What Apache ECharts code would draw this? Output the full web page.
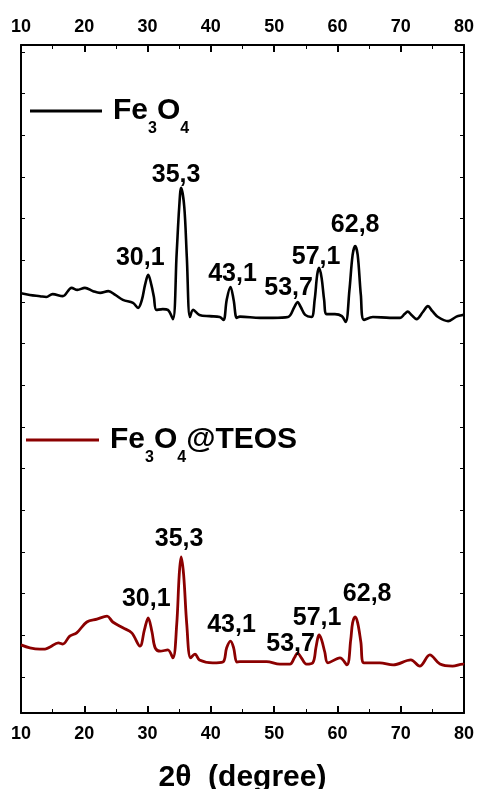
<!DOCTYPE html>
<html>
<head>
<meta charset="utf-8">
<script src="https://cdn.jsdelivr.net/npm/echarts@6/dist/echarts.min.js"></script>
<style>
html, body { margin: 0; padding: 0; background: #fff; }
#chart { width: 477px; height: 789px; }
</style>
</head>
<body>
<div id="chart"></div>
<script>
// XRD patterns: 2θ (degree) against intensity (a.u., stacked)
const twoThetaFe3O4 = [10.0, 11.4, 13.0, 14.0, 15.0, 16.6, 18.0, 18.9, 20.1, 21.4, 22.5, 23.8, 24.9, 26.1, 27.7, 28.5, 29.1, 29.6, 30.1, 30.6, 31.0, 31.4, 32.4, 33.2, 34.0, 34.6, 35.0, 35.3, 35.8, 36.2, 36.7, 37.2, 38.2, 39.8, 41.4, 42.0, 42.5, 43.1, 43.6, 44.1, 44.6, 47.8, 49.8, 52.2, 53.2, 53.7, 54.2, 54.9, 55.9, 56.4, 56.8, 57.1, 57.5, 57.9, 58.3, 59.6, 60.7, 61.3, 61.9, 62.4, 62.8, 63.2, 63.7, 64.2, 65.6, 68.3, 69.9, 70.6, 71.1, 71.7, 72.5, 73.5, 74.3, 75.0, 75.9, 77.5, 78.8, 79.8, 80.0];
const intensityFe3O4 = [921, 917, 914, 912, 919, 914, 934, 929, 934, 926, 922, 926, 917, 905, 898, 886, 905, 941, 965, 941, 912, 881, 883, 881, 859, 1018, 1128, 1174, 1128, 1008, 864, 881, 869, 866, 864, 857, 905, 936, 905, 862, 865, 862, 862, 864, 888, 900, 888, 869, 864, 905, 965, 982, 958, 905, 871, 871, 866, 852, 929, 1013, 1034, 1013, 917, 857, 864, 862, 862, 871, 877, 869, 859, 876, 890, 878, 864, 854, 865, 869, 870];

const twoThetaTEOS = [10.0, 11.4, 13.0, 13.8, 14.6, 15.9, 16.6, 17.7, 18.8, 20.4, 22.0, 23.6, 24.5, 26.1, 27.5, 28.8, 29.5, 30.1, 30.7, 31.2, 32.0, 33.2, 34.0, 34.6, 35.0, 35.3, 35.7, 36.2, 36.8, 37.5, 38.2, 40.3, 41.9, 42.5, 43.1, 43.6, 44.1, 44.6, 48.8, 50.9, 52.5, 53.2, 53.7, 54.3, 55.1, 56.1, 56.6, 56.9, 57.1, 57.5, 58.0, 58.5, 60.4, 61.5, 62.1, 62.4, 62.8, 63.2, 63.7, 64.2, 66.7, 68.8, 71.6, 73.0, 74.6, 76.2, 78.2, 79.8, 80.0];
const intensityTEOS = [77, 70, 67, 67, 72, 82, 79, 98, 106, 132, 139, 146, 132, 118, 106, 74, 113, 142, 108, 70, 62, 65, 46, 125, 245, 288, 245, 125, 46, 55, 41, 34, 36, 70, 86, 70, 36, 37, 37, 31, 31, 46, 58, 46, 31, 34, 70, 94, 101, 89, 60, 34, 46, 29, 89, 130, 144, 130, 84, 34, 34, 29, 41, 26, 53, 31, 26, 31, 30];

// indexed reflections (2θ) labelled on both patterns
const peakPositions = [30.1, 35.3, 43.1, 53.7, 57.1, 62.8];

const seriesNames = ['Fe3O4', 'Fe3O4@TEOS'];
const xTickValues = [10, 20, 30, 40, 50, 60, 70, 80];
const intensityTicks = [0, 100, 200, 300, 400, 500, 600, 700, 800, 900, 1000, 1100, 1200, 1300, 1400, 1500];

const FONT = '"Liberation Sans", Arial, Helvetica, sans-serif';

// nudges so the peak labels sit clear of the curves
const labelNudgeFe3O4 = [[-8, 1], [-5, 5], [2, 5], [-9, 4], [-3, 7], [0, -4]];
const labelNudgeTEOS = [[-2, -1], [-2, 0], [1, 1], [-7, 9], [-2, 1], [12, -5]];

function buildData(xs, ys) {
  return xs.map(function (x, i) {
    const item = { value: [x, ys[i]] };
    if (peakPositions.indexOf(x) >= 0) {
      item.label = { show: true };
    }
    return item;
  });
}

function nudger(xs, nudges) {
  return function (params) {
    const k = peakPositions.indexOf(xs[params.dataIndex]);
    if (k < 0) return {};
    return { dx: nudges[k][0], dy: nudges[k][1], hideOverlap: false };
  };
}

// chemical formula with subscript digits
function formula(name) {
  return '{m|' + name.replace(/(\d)/g, '}{s|$1}{m|') + '}';
}

const legendRich = {
  m: { fontSize: 30, fontWeight: 'bold', color: '#000', fontFamily: FONT, lineHeight: 30 },
  s: { fontSize: 16, fontWeight: 'bold', color: '#000', fontFamily: FONT, lineHeight: 16, padding: [36, 0, 0, 0] }
};

const peakLabel = {
  show: false,
  position: 'top',
  distance: 5,
  fontSize: 25,
  fontWeight: 'bold',
  color: '#000',
  fontFamily: FONT,
  formatter: function (p) { return String(p.value[0]).replace('.', ','); }
};

function xAxisCfg(pos, margin) {
  return {
    type: 'value',
    position: pos,
    min: 10,
    max: 80,
    interval: 10,
    axisLine: { show: true, onZero: false, lineStyle: { color: '#000', width: 2 } },
    axisTick: { show: true, inside: true, length: 7, lineStyle: { color: '#000', width: 2 } },
    minorTick: { show: true, splitNumber: 2, length: 4, lineStyle: { color: '#000', width: 1 } },
    splitLine: { show: false },
    axisLabel: {
      show: true, margin: margin, fontSize: 18, fontWeight: 'bold', color: '#000', fontFamily: FONT,
      customValues: xTickValues
    }
  };
}

function yAxisCfg(pos) {
  return {
    type: 'value',
    position: pos,
    min: -86.4,
    max: 1516.8,
    axisLine: { show: true, onZero: false, lineStyle: { color: '#000', width: 2 } },
    axisTick: { show: true, inside: true, length: 4, customValues: intensityTicks, lineStyle: { color: '#000', width: 1 } },
    axisLabel: { show: false },
    splitLine: { show: false }
  };
}

const bottomAxis = xAxisCfg('bottom', 12);
bottomAxis.name = '2θ  (degree)';
bottomAxis.nameLocation = 'middle';
bottomAxis.nameGap = 50;
bottomAxis.nameTextStyle = { fontSize: 30, fontWeight: 'bold', color: '#000', fontFamily: FONT };

function lineSeries(name, xs, ys, nudges, color, width, z) {
  return {
    name: name,
    type: 'line',
    xAxisIndex: 0, yAxisIndex: 0,
    data: buildData(xs, ys),
    smooth: 0.35,
    showSymbol: true,
    showAllSymbol: true,
    symbol: 'circle',
    symbolSize: 0,
    color: color,
    lineStyle: { color: color, width: width },
    label: peakLabel,
    labelLayout: nudger(xs, nudges),
    z: z
  };
}

const option = {
  backgroundColor: '#fff',
  animation: false,
  grid: { left: 21, right: 13, top: 45, bottom: 76, containLabel: false, outerBoundsMode: 'none' },
  xAxis: [bottomAxis, xAxisCfg('top', 9)],
  yAxis: [yAxisCfg('left'), yAxisCfg('right')],
  legend: [
    {
      data: [seriesNames[0]], left: 30, top: 85, padding: 0,
      icon: 'rect', itemWidth: 72, itemHeight: 3, selectedMode: false,
      formatter: formula,
      textStyle: { padding: [0, 0, 0, 6], rich: legendRich }
    },
    {
      data: [seriesNames[1]], left: 26, top: 414, padding: 0,
      icon: 'rect', itemWidth: 73, itemHeight: 3, selectedMode: false,
      formatter: formula,
      textStyle: { padding: [0, 0, 0, 6], rich: legendRich }
    }
  ],
  series: [
    lineSeries(seriesNames[0], twoThetaFe3O4, intensityFe3O4, labelNudgeFe3O4, '#000', 2.6, 3),
    lineSeries(seriesNames[1], twoThetaTEOS, intensityTEOS, labelNudgeTEOS, '#8b0000', 2.8, 2)
  ]
};

const chart = echarts.init(document.getElementById('chart'), null, { renderer: 'canvas' });
chart.setOption(option);
</script>
</body>
</html>
